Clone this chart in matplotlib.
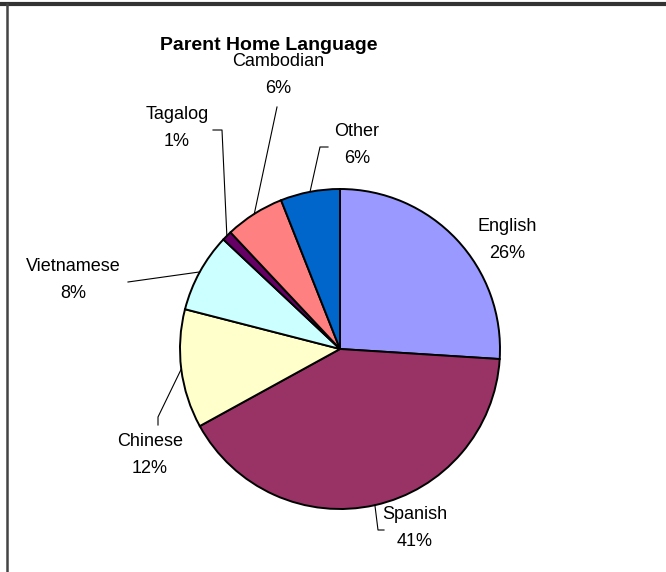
import matplotlib.pyplot as plt
import numpy as np

# data
languages = ['English', 'Spanish', 'Chinese', 'Vietnamese', 'Tagalog', 'Cambodian', 'Other']
percents = [26, 41, 12, 8, 1, 6, 6]
colors = ['#9999FF', '#993366', '#FFFFCC', '#CCFFFF', '#660066', '#FF8080', '#0066CC']

W, H = 666, 572
plt.rcParams['font.family'] = ['Liberation Sans', 'DejaVu Sans']

fig = plt.figure(figsize=(W / 100, H / 100), dpi=100)
ax = fig.add_axes([0, 0, 1, 1])

cx, cy, r = 340, H - 349, 160
ax.pie(percents, colors=colors, startangle=90, counterclock=False,
       center=(cx, cy), radius=r,
       wedgeprops=dict(edgecolor='black', linewidth=1.4))

ax.set_xlim(0, W)
ax.set_ylim(0, H)
ax.set_aspect('equal')
ax.axis('off')

# label centres (pixel coords from top) and leader line elbows
label_pos = {
    'English': (507, 240),
    'Spanish': (415, 528),
    'Chinese': (150, 455),
    'Vietnamese': (73, 280),
    'Tagalog': (177, 128),
    'Cambodian': (278, 75),
    'Other': (357, 145),
}
leaders = {
    'Spanish': [(384, 530), (378, 530)],
    'Chinese': [(158, 425), (158, 417)],
    'Vietnamese': [(128, 282)],
    'Tagalog': [(213, 130), (222, 130)],
    'Cambodian': [(277, 107)],
    'Other': [(328, 147), (320, 147)],
}

cum = np.cumsum([0] + percents)
for i, name in enumerate(languages):
    mid = 90 - 3.6 * (cum[i] + cum[i + 1]) / 2
    ex = cx + r * np.cos(np.radians(mid))
    ey = cy + r * np.sin(np.radians(mid))
    lx, ly = label_pos[name]
    ax.text(lx, H - ly, '%s\n%d%%' % (name, percents[i]), ha='center', va='center',
            fontsize=13, linespacing=1.75)
    if name in leaders:
        pts = leaders[name]
        xs = [p[0] for p in pts] + [ex]
        ys = [H - p[1] for p in pts] + [ey]
        ax.plot(xs, ys, color='black', lw=0.8)

ax.text(269, H - 46, 'Parent Home Language', ha='center', va='center',
        fontsize=14, fontweight='bold')

# chart frame
ax.plot([0, W], [H - 3.5, H - 3.5], color='#333333', lw=3, clip_on=False)
ax.plot([7, 7], [0, H - 3.5], color='#444444', lw=1.8, clip_on=False)

plt.savefig('out.png', dpi=100)
